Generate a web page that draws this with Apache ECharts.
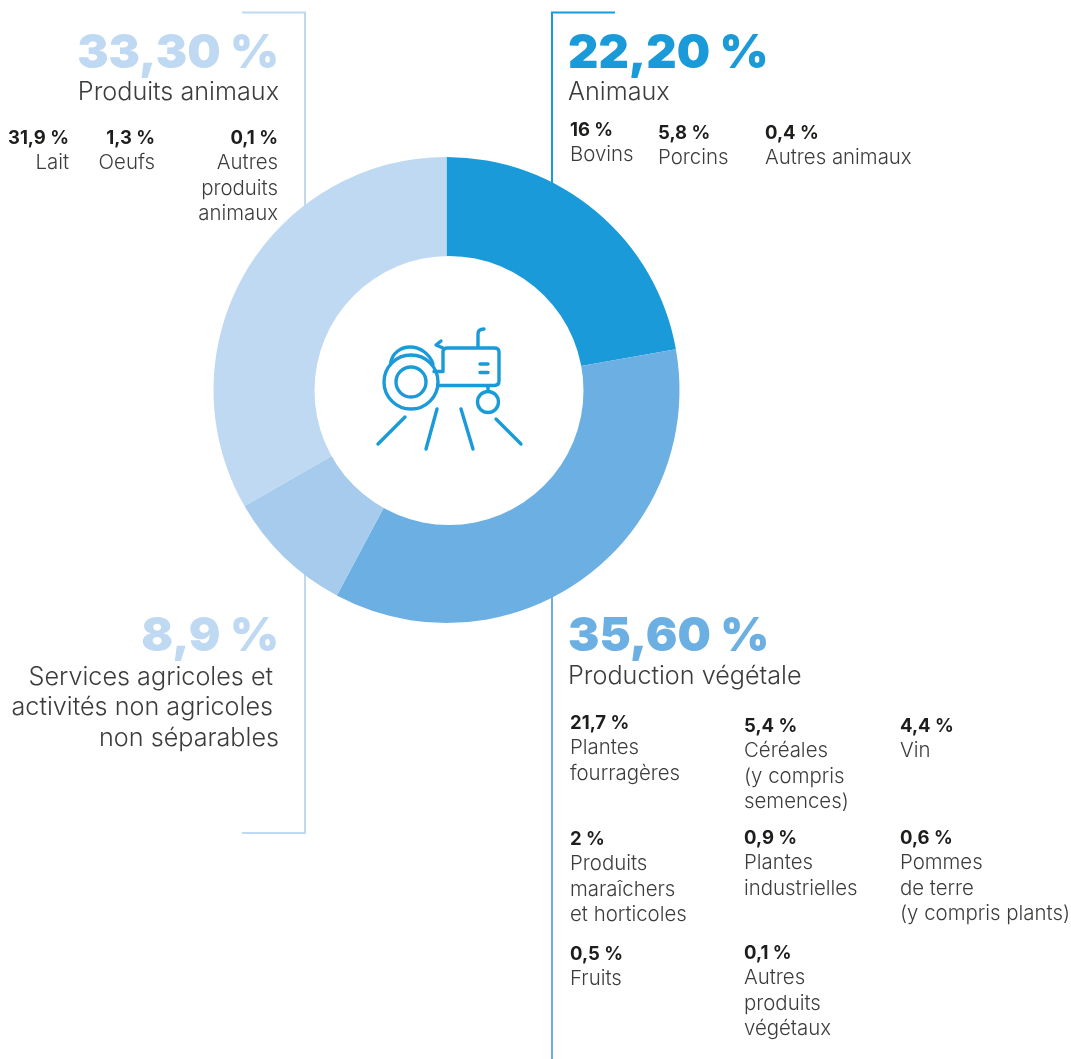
<!DOCTYPE html>
<html><head><meta charset="utf-8">
<style>html,body{margin:0;padding:0;background:#fff}#c{width:1071px;height:1059px}</style>
<script src="https://cdn.jsdelivr.net/npm/echarts@6/dist/echarts.min.js"></script>
</head><body><div id="c"></div>
<script>
const categories = ['Animaux','Production végétale','Services agricoles et activités non agricoles non séparables','Produits animaux'];
const shares = [22.2,35.6,8.9,33.3];
const shareLabels = ['22,20 %','35,60 %','8,9 %','33,30 %'];
const colors = ['#1b9ad9','#6cb0e3','#a7cbec','#bed9f1'];

const animauxPct = ['16 %','5,8 %','0,4 %'];
const animauxNames = ['Bovins','Porcins','Autres animaux'];
const produitsPct = ['31,9 %','1,3 %','0,1 %'];
const produitsNames = ['Lait','Oeufs','Autres\nproduits\nanimaux'];
const vegetalPct = ['21,7 %','5,4 %','4,4 %','2 %','0,9 %','0,6 %','0,5 %','0,1 %'];
const vegetalNames = ['Plantes\nfourragères','Céréales\n(y compris\nsemences)','Vin','Produits\nmaraîchers\net horticoles','Plantes\nindustrielles','Pommes\nde terre\n(y compris plants)','Fruits','Autres\nproduits\nvégétaux'];

const FONT = 'Inter, "Open Sans", sans-serif';
const INK = '#1d1d1b', SOFT = '#3c3c3b';
const BIG = 47, MID = 25.2, SMALL = 20.4, PCT = 18.5;
const g = [];
function t(x,y,text,size,weight,fill,align,lh){
  g.push({type:'text',x,y,z:5,style:{text,font:`${weight} ${size}px ${FONT}`,fill,align:align||'left',verticalAlign:'middle',lineHeight:lh||25.4}});
}
function line(pts,color,w){
  g.push({type:'polyline',z:1,shape:{points:pts},style:{stroke:color,lineWidth:w||2,fill:null,lineJoin:'miter'}});
}
// brackets
line([[242,12.5],[305,12.5],[305,225]],colors[3]);
line([[305,560],[305,833],[242,833]],colors[3]);
line([[615,12.5],[552,12.5],[552,200]],colors[0]);
line([[552,585],[552,1059]],colors[1]);
// off-centre hole of the ring
g.push({type:'circle',z:4,shape:{cx:449,cy:390.5,r:134.5},style:{fill:'#fff'}});
// headings
t(568,54,shareLabels[0],BIG,900,colors[0]);
t(568,92,categories[0],MID,300,SOFT);
t(279,54,shareLabels[3],BIG,900,colors[3],'right');
t(279,92,categories[3],MID,300,SOFT,'right');
t(279,637,shareLabels[2],BIG,900,colors[3],'right');
t(273,677,'Services agricoles et',MID,300,SOFT,'right');
t(273,707,'activités non agricoles',MID,300,SOFT,'right');
t(279,738,'non séparables',MID,300,SOFT,'right');
t(568,637,shareLabels[1],BIG,900,colors[1]);
t(568,676,categories[1],MID,300,SOFT);
// detail blocks
[[570,130,155],[658,133,158],[765,133,158]].forEach((p,i)=>{
  t(p[0],p[1],animauxPct[i],PCT,700,INK); t(p[0],p[2],animauxNames[i],SMALL,300,SOFT);
});
[[69,138],[155,138],[278,138]].forEach((p,i)=>{
  t(p[0],p[1],produitsPct[i],PCT,700,INK,'right');
  t(p[0],163+(produitsNames[i].split('\n').length-1)*12.7,produitsNames[i],SMALL,300,SOFT,'right');
});
[[570,723],[744,726],[900,726],[570,839],[744,838],[900,838],[570,954],[744,953]].forEach((p,i)=>{
  t(p[0],p[1],vegetalPct[i],PCT,700,INK);
  t(p[0],p[1]+25+(vegetalNames[i].split('\n').length-1)*12.7,vegetalNames[i],SMALL,300,SOFT);
});
// tractor icon
const ic = '#1b9ad9';
const ist = {stroke:ic,lineWidth:3.4,fill:null,lineCap:'round',lineJoin:'round'};
[[411,382,27],[411,382,15],[488,402,10.5]].forEach(c=>g.push({type:'circle',z:6,shape:{cx:c[0],cy:c[1],r:c[2]},style:ist}));
function iconPath(name,d){
  echarts.graphic.registerShape(name,echarts.graphic.extendPath(d,{}));
  g.push({type:name,z:6,style:ist});
}
iconPath('fender','M390.5 364 C392 352 402 347 410 347 C420 347 430 354 433 364');
iconPath('hood','M438 385.5 L494 385.5 Q499 385.5 499 381 L499 352 Q499 348 494 348 L447 348 Q444 348 443 351 L443 371.5 L434 371.5');
iconPath('exhaust','M478 347 L478 334 Q478 329 484 329');
iconPath('cap','M443 348 L436 345 L441 341');
iconPath('grille','M480 364 L488 364 M480 372.5 L488 372.5 M488 386 L488 391');
iconPath('rays','M405 417 L378 444 M437 409 L426 449 M461 409 L473 449 M496 419 L521 444');

echarts.init(document.getElementById('c'),null,{renderer:'canvas'}).setOption({
  animation:false,
  backgroundColor:'#fff',
  color:colors,
  series:[{
    type:'pie',z:3,
    center:[446.5,390],
    radius:[128,233],
    startAngle:90,
    clockwise:true,
    label:{show:false},labelLine:{show:false},
    silent:true,
    data:categories.map((name,i)=>({name,value:shares[i]}))
  }],
  graphic:g
});
</script></body></html>
